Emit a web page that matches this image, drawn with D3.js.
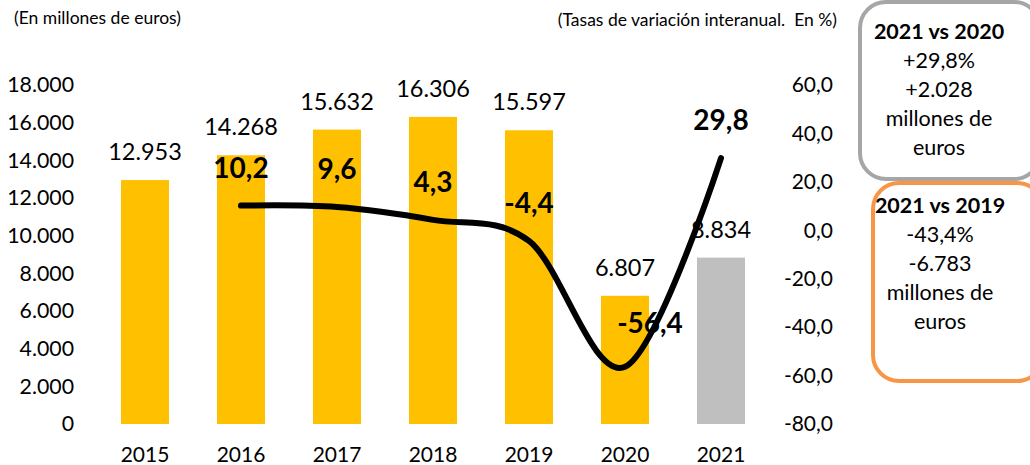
<!DOCTYPE html>
<html><head><meta charset="utf-8">
<script src="https://cdn.jsdelivr.net/npm/d3@7"></script>
<style>
body{margin:0;background:#fff;}
svg{display:block;font-family:Lato,"Open Sans",sans-serif;}
text{white-space:pre;}
</style></head>
<body><svg id="c" width="1030" height="465"></svg>
<script>
const years = ["2015","2016","2017","2018","2019","2020","2021"];
const values = [12953,14268,15632,16306,15597,6807,8834];
const growthYears = ["2016","2017","2018","2019","2020","2021"];
const growth = [10.2,9.6,4.3,-4.4,-56.4,29.8];
const leftTicks = [0,2000,4000,6000,8000,10000,12000,14000,16000,18000];
const rightTicks = [-80,-60,-40,-20,0,20,40,60];
const box1Lines = ["2021 vs 2020","+29,8%","+2.028","millones de","euros"];
const box2Lines = ["2021 vs 2019","-43,4%","-6.783","millones de","euros"];

const loc = d3.formatLocale({decimal:",",thousands:".",grouping:[3],currency:["","€"],minus:"-"});
const fmtL = loc.format(",.0f");
const fmtR = loc.format(",.1f");

const svg = d3.select("#c");
const x = d3.scaleBand().domain(years).range([97,769]).paddingInner(0.5).paddingOuter(0.25);
const yL = d3.scaleLinear().domain([0,18000]).range([424,85]);
const yR = d3.scaleLinear().domain([-80,60]).range([424,85]);

// header texts
svg.append("text").attr("x",14).attr("y",24).attr("font-size",17.5).attr("fill","#000").text("(En millones de euros)");
svg.append("text").attr("x",837).attr("y",26).attr("text-anchor","end").attr("font-size",17.5).attr("fill","#000").text("(Tasas de variación interanual.  En %)");

// left axis
const gL = svg.append("g").attr("transform","translate(97,0)")
  .call(d3.axisLeft(yL).tickValues(leftTicks).tickSize(0).tickPadding(23).tickFormat(fmtL));
gL.select(".domain").remove();
gL.selectAll("text").attr("font-size",21.3).attr("fill","#000").style("font-family","Lato");

// right axis
const gR = svg.append("g").attr("transform","translate(790,0)")
  .call(d3.axisRight(yR).tickValues(rightTicks).tickSize(0).tickPadding(43).tickFormat(fmtR));
gR.select(".domain").remove();
gR.selectAll("text").attr("font-size",21).attr("fill","#000").attr("text-anchor","end").style("font-family","Lato");

// bottom axis
const gB = svg.append("g").attr("transform","translate(0,424)")
  .call(d3.axisBottom(x).tickSize(0).tickPadding(23));
gB.select(".domain").remove();
gB.selectAll("text").attr("font-size",21).attr("fill","#000").style("font-family","Lato");

// bars
svg.append("g").selectAll("rect").data(years).join("rect")
  .attr("x",d=>x(d)).attr("width",x.bandwidth())
  .attr("y",(d,i)=>yL(values[i])).attr("height",(d,i)=>yL(0)-yL(values[i]))
  .attr("fill",(d,i)=>i===years.length-1?"#BFBFBF":"#FFC000");

// bar labels
svg.append("g").selectAll("text").data(years).join("text")
  .attr("x",d=>x(d)+x.bandwidth()/2).attr("y",(d,i)=>yL(values[i])-20)
  .attr("text-anchor","middle").attr("font-size",23.5).attr("fill","#000")
  .text((d,i)=>fmtL(values[i]));

// growth labels
const cx = d=>x(d)+x.bandwidth()/2;
svg.append("g").selectAll("text").data(growthYears).join("text")
  .attr("x",(d,i)=>cx(d)+(growth[i]<-50?25:0))
  .attr("y",(d,i)=>yR(growth[i])-(growth[i]<-50?34:28))
  .attr("text-anchor","middle").attr("font-size",28).attr("font-weight","bold").attr("fill","#000")
  .text((d,i)=>fmtR(growth[i]));

// line
const line = d3.line().x(d=>cx(d[0])).y(d=>yR(d[1])).curve(d3.curveCardinal.tension(0));
svg.append("path").datum(growthYears.map((d,i)=>[d,growth[i]]))
  .attr("d",line).attr("fill","none").attr("stroke","#000").attr("stroke-width",6)
  .attr("stroke-linecap","round");

// boxes
svg.append("rect").attr("x",860).attr("y",2).attr("width",180).attr("height",177).attr("rx",26)
  .attr("fill","#fff").attr("stroke","#A6A6A6").attr("stroke-width",4);
svg.append("rect").attr("x",873).attr("y",183).attr("width",170).attr("height",198).attr("rx",26)
  .attr("fill","#fff").attr("stroke","#F79646").attr("stroke-width",4);

function boxText(lines,cxp,y0){
  const g = svg.append("g");
  lines.forEach((t,i)=>{
    g.append("text").attr("x",cxp).attr("y",y0+i*29).attr("text-anchor","middle")
      .attr("font-size",21.5).attr("font-weight",i===0?"bold":"normal").attr("fill","#000").text(t);
  });
}
boxText(box1Lines,939,39);
boxText(box2Lines,940,213);
</script></body></html>
